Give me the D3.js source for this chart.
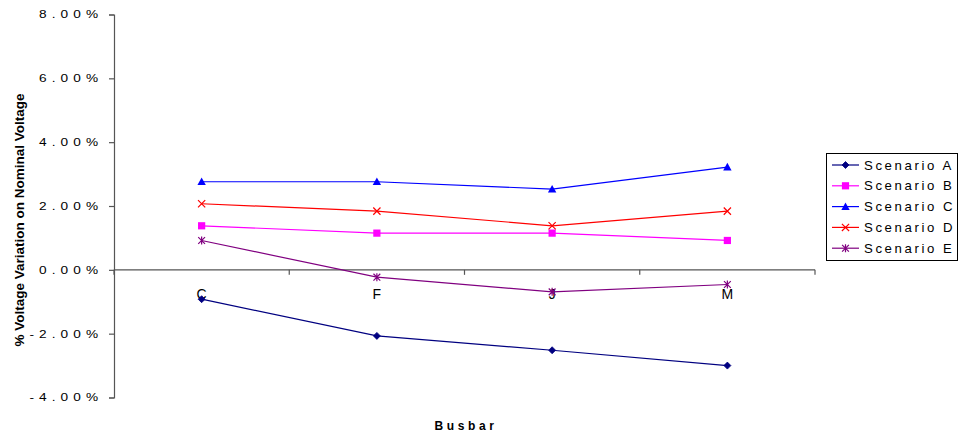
<!DOCTYPE html>
<html>
<head>
<meta charset="utf-8">
<script src="https://cdn.jsdelivr.net/npm/d3@7"></script>
<style>
  html, body { margin: 0; padding: 0; background: #fff; }
  svg { display: block; font-family: "Liberation Sans", Arial, sans-serif; }
</style>
</head>
<body>
<svg id="chart" width="960" height="438"></svg>
<script>
// Busbar categories along the x axis
const busbars = ["C", "F", "J", "M"];

// Voltage variation (%) per scenario at each busbar
const scenarioA = [-0.92, -2.07, -2.52, -3.00];
const scenarioB = [1.38, 1.15, 1.15, 0.92];
const scenarioC = [2.76, 2.76, 2.53, 3.22];
const scenarioD = [2.07, 1.84, 1.38, 1.84];
const scenarioE = [0.92, -0.23, -0.69, -0.46];

const seriesNames = ["Scenario A", "Scenario B", "Scenario C", "Scenario D", "Scenario E"];
const yTicks = [-4, -2, 0, 2, 4, 6, 8];

const series = [
  { name: seriesNames[0], values: scenarioA, color: "#000080", marker: "diamond" },
  { name: seriesNames[1], values: scenarioB, color: "#ff00ff", marker: "square" },
  { name: seriesNames[2], values: scenarioC, color: "#0000ff", marker: "triangle" },
  { name: seriesNames[3], values: scenarioD, color: "#ff0000", marker: "cross" },
  { name: seriesNames[4], values: scenarioE, color: "#800080", marker: "star" }
];

const svg = d3.select("#chart");
const plot = { left: 114, right: 815, top: 14.5, bottom: 397.5 };

const x = d3.scaleBand().domain(busbars).range([plot.left, plot.right]);
const y = d3.scaleLinear().domain([-4, 8]).range([plot.bottom, plot.top]);

// Marker drawing: appends a shape centred at (cx, cy)
function drawMarker(g, type, cx, cy, color) {
  if (type === "diamond") {
    const s = 3.5;
    g.append("path")
      .attr("d", `M${cx},${cy - s}L${cx + s},${cy}L${cx},${cy + s}L${cx - s},${cy}Z`)
      .attr("fill", color).attr("stroke", color).attr("stroke-width", 0.8);
  } else if (type === "square") {
    const s = 3.6;
    g.append("rect").attr("x", cx - s).attr("y", cy - s)
      .attr("width", 2 * s).attr("height", 2 * s).attr("fill", color);
  } else if (type === "triangle") {
    const s = 4.2;
    g.append("path")
      .attr("d", `M${cx},${cy - s}L${cx + s},${cy + s * 0.8}L${cx - s},${cy + s * 0.8}Z`)
      .attr("fill", color);
  } else if (type === "cross") {
    const s = 3.6;
    g.append("path")
      .attr("d", `M${cx - s},${cy - s}L${cx + s},${cy + s}M${cx - s},${cy + s}L${cx + s},${cy - s}`)
      .attr("stroke", color).attr("stroke-width", 1.2).attr("fill", "none");
  } else if (type === "star") {
    const s = 3.4;
    g.append("path")
      .attr("d", `M${cx - s},${cy - s}L${cx + s},${cy + s}M${cx - s},${cy + s}L${cx + s},${cy - s}M${cx},${cy - s - 0.6}L${cx},${cy + s + 0.6}`)
      .attr("stroke", color).attr("stroke-width", 1.2).attr("fill", "none");
  }
}

// Y axis (labels use a horizontally widened, letter-spaced face)
const labelStretch = 1.3;
const yAxis = d3.axisLeft(y)
  .tickValues(yTicks)
  .tickSize(5)
  .tickPadding(4)
  .tickFormat(d => d.toFixed(2) + "%");

const gy = svg.append("g")
  .attr("transform", `translate(${plot.left},0)`)
  .call(yAxis);
gy.select(".domain").attr("stroke", "#555").attr("stroke-width", 1.2);
gy.selectAll(".tick line").attr("stroke", "#555").attr("stroke-width", 1.2);
gy.selectAll(".tick text")
  .attr("font-size", 10.5)
  .attr("x", -8.4)
  .attr("transform", `scale(${labelStretch},1)`)
  .style("letter-spacing", "3.9px")
  .attr("fill", "#000")
  .attr("font-family", "'Liberation Sans', Arial, sans-serif");

// X axis drawn along the zero line with boundary ticks between categories
const xLine = svg.append("g").attr("transform", `translate(0,${y(0)})`);
xLine.append("line")
  .attr("x1", plot.left).attr("x2", plot.right)
  .attr("stroke", "#555").attr("stroke-width", 1.2);
const boundaries = busbars.map(b => x(b)).concat([x(busbars[busbars.length - 1]) + x.bandwidth()]);
xLine.selectAll("line.tk").data(boundaries).join("line")
  .attr("class", "tk")
  .attr("x1", d => d).attr("x2", d => d)
  .attr("y1", 0).attr("y2", 5)
  .attr("stroke", "#555").attr("stroke-width", 1.2);
xLine.selectAll("text.cat").data(busbars).join("text")
  .attr("class", "cat")
  .attr("x", d => x(d) + x.bandwidth() / 2)
  .attr("y", 29)
  .attr("text-anchor", "middle")
  .attr("font-size", 14)
  .attr("fill", "#000")
  .text(d => d);

// Series lines and markers
const line = d3.line()
  .x((d, i) => x(busbars[i]) + x.bandwidth() / 2)
  .y(d => y(d));

series.forEach(s => {
  const g = svg.append("g");
  g.append("path")
    .datum(s.values)
    .attr("d", line)
    .attr("fill", "none")
    .attr("stroke", s.color)
    .attr("stroke-width", 1.2);
  s.values.forEach((v, i) => {
    drawMarker(g, s.marker, x(busbars[i]) + x.bandwidth() / 2, y(v), s.color);
  });
});

// Axis titles
svg.append("text")
  .attr("transform", `translate(24,${(plot.top + plot.bottom) / 2 + 14}) rotate(-90)`)
  .attr("text-anchor", "middle")
  .attr("font-size", 13.5)
  .attr("font-weight", "bold")
  .attr("fill", "#000")
  .text("% Voltage Variation on Nominal Voltage");

svg.append("text")
  .attr("x", 466)
  .attr("y", 430)
  .attr("text-anchor", "middle")
  .attr("font-size", 12)
  .attr("font-weight", "bold")
  .style("letter-spacing", "3.6px")
  .attr("fill", "#000")
  .text("Busbar");

// Legend
const legend = svg.append("g");
legend.append("rect")
  .attr("x", 826.5).attr("y", 153.5)
  .attr("width", 131).attr("height", 107)
  .attr("fill", "#fff").attr("stroke", "#000").attr("stroke-width", 1);

series.forEach((s, i) => {
  const ly = 165 + i * 20.8;
  const g = legend.append("g");
  g.append("line")
    .attr("x1", 832).attr("x2", 859)
    .attr("y1", ly).attr("y2", ly)
    .attr("stroke", s.color).attr("stroke-width", 1.2);
  drawMarker(g, s.marker, 845.5, ly, s.color);
  g.append("text")
    .attr("transform", `translate(864,${ly + 4.5}) scale(1.1,1)`)
    .attr("font-size", 12)
    .style("letter-spacing", "2.36px")
    .attr("fill", "#000")
    .text(s.name);
});
</script>
</body>
</html>
